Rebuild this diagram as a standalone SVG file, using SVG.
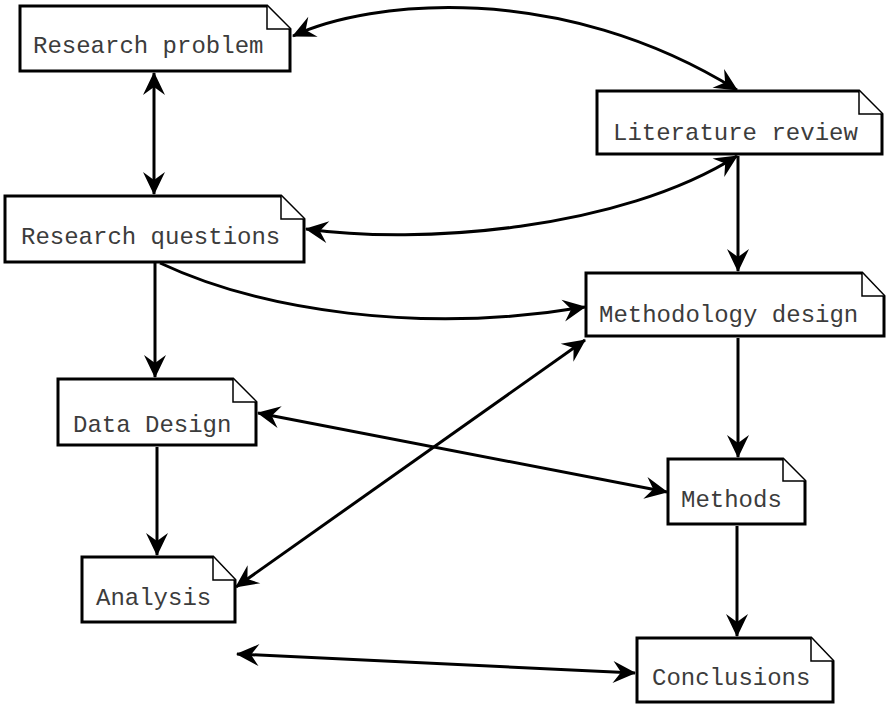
<svg xmlns="http://www.w3.org/2000/svg" width="886" height="704" viewBox="0 0 886 704">
<defs>
<style>
.box{fill:#fff;stroke:#000;stroke-width:3;stroke-linejoin:miter}
.fold{fill:#fff;stroke:#000;stroke-width:1.5}
.lbl{font-family:"Liberation Mono","Courier New",monospace;font-size:24px;fill:#3c3c3c}
.c{fill:none;stroke:#000;stroke-width:3}
.e{marker-end:url(#ah)}
.b{marker-start:url(#ah);marker-end:url(#ah)}
</style>
<marker id="ah" markerUnits="userSpaceOnUse" viewBox="-23 -12 24 24" refX="0" refY="0" markerWidth="24" markerHeight="24" orient="auto-start-reverse" overflow="visible">
<path d="M1,0 L-22,-11 L-14,0 L-22,11 Z" fill="#000"/>
</marker>
</defs>
<rect width="886" height="704" fill="#fff"/>
<g id="connectors">
<path class="c b" d="M293,36 C370,0 560,-20 737,90"/>
<path class="c b" d="M154,73 L154,194"/>
<path class="c b" d="M737,156 C620,230 420,245 306,229"/>
<path class="c e" d="M738,156 L738,271"/>
<path class="c e" d="M160,263 C260,310 420,335 585,307"/>
<path class="c e" d="M155,263 L155,377"/>
<path class="c b" d="M258,413 L667,492"/>
<path class="c b" d="M585,340 L236,587"/>
<path class="c e" d="M738,338 L738,457"/>
<path class="c e" d="M157,447 L157,555"/>
<path class="c e" d="M737,526 L737,636"/>
<path class="c b" d="M237,654 L635,673"/>
</g>
<g id="research-problem">
<path class="box" d="M20,6 H267 L290,29 V71 H20 Z"/>
<path class="fold" d="M267,6 V29 H290"/>
<text class="lbl" x="33" y="53">Research problem</text>
</g>
<g id="literature-review">
<path class="box" d="M597,91 H859 L882,114 V154 H597 Z"/>
<path class="fold" d="M859,91 V114 H882"/>
<text class="lbl" x="613" y="140">Literature review</text>
</g>
<g id="research-questions">
<path class="box" d="M5,196 H281 L304,219 V262 H5 Z"/>
<path class="fold" d="M281,196 V219 H304"/>
<text class="lbl" x="21" y="244">Research questions</text>
</g>
<g id="methodology-design">
<path class="box" d="M586,273 H862 L884,296 V336 H586 Z"/>
<path class="fold" d="M862,273 V296 H884"/>
<text class="lbl" x="599" y="322">Methodology design</text>
</g>
<g id="data-design">
<path class="box" d="M58,379 H233 L256,402 V445 H58 Z"/>
<path class="fold" d="M233,379 V402 H256"/>
<text class="lbl" x="73" y="432">Data Design</text>
</g>
<g id="methods">
<path class="box" d="M668,459 H783 L805,481 V524 H668 Z"/>
<path class="fold" d="M783,459 V481 H805"/>
<text class="lbl" x="681" y="507">Methods</text>
</g>
<g id="analysis">
<path class="box" d="M82,557 H213 L235,580 V622 H82 Z"/>
<path class="fold" d="M213,557 V580 H235"/>
<text class="lbl" x="96" y="605">Analysis</text>
</g>
<g id="conclusions">
<path class="box" d="M637,638 H811 L833,661 V702 H637 Z"/>
<path class="fold" d="M811,638 V661 H833"/>
<text class="lbl" x="652" y="685">Conclusions</text>
</g>
</svg>
